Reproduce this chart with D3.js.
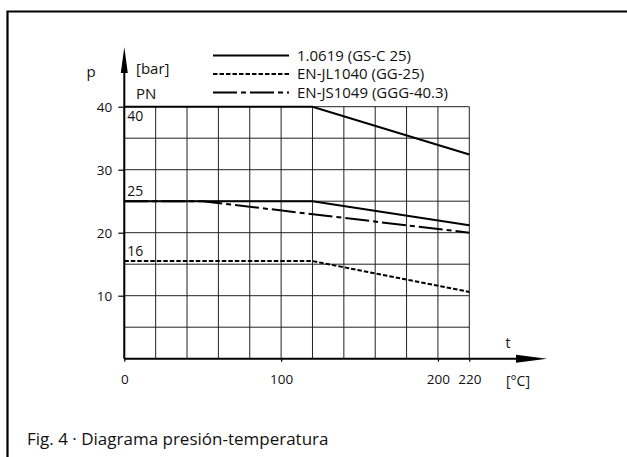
<!DOCTYPE html>
<html><head><meta charset="utf-8">
<script src="https://cdn.jsdelivr.net/npm/d3@7"></script>
<style>html,body{margin:0;padding:0;background:#fff;}svg{display:block;}</style>
</head><body>
<script>
// ---- data ----
const xTicks = [0, 100, 200, 220];
const yTicks = [10, 20, 30, 40];
const xGrid = [0, 20, 40, 60, 80, 100, 120, 140, 160, 180, 200, 220];
const yGrid = [5, 10, 15, 20, 25, 30, 35, 40];
const legendLabels = ["1.0619 (GS-C 25)", "EN-JL1040 (GG-25)", "EN-JS1049 (GGG-40.3)"];
const pnLabels = [40, 25, 16];
const gsc25_pn40_t = [0, 120, 220];
const gsc25_pn40_p = [40, 40, 32.4];
const gsc25_pn25_t = [0, 120, 220];
const gsc25_pn25_p = [25, 25, 21.2];
const gg25_pn16_t = [0, 120, 220];
const gg25_pn16_p = [15.5, 15.5, 10.6];
const ggg40_pn25_t = [0, 50, 220];
const ggg40_pn25_p = [25, 25, 20];
const caption = "Fig. 4 · Diagrama presión-temperatura";

const W = 627, H = 457;
const FONT = "'Open Sans', 'DejaVu Sans', sans-serif";
const svg = d3.select("body").append("svg").attr("width", W).attr("height", H)
  .style("font-family", FONT);

const x = d3.scaleLinear().domain([0, 220]).range([124.3, 469.3]);
const y = d3.scaleLinear().domain([0, 40]).range([358.7, 106.7]);

const dashStyles = ["none", "4.5,2", "24,4,5,4"];

// frame (top + left)
svg.append("path").attr("d", `M7.5,${H} V11.5 H${W}`).attr("fill", "none")
  .attr("stroke", "#000").attr("stroke-width", 2.2);

// grid
const g = svg.append("g");
g.selectAll("line.v").data(xGrid).join("line")
  .attr("x1", d => x(d)).attr("x2", d => x(d)).attr("y1", y(0)).attr("y2", y(40))
  .attr("stroke", "#222").attr("stroke-width", 1);
g.selectAll("line.h").data(yGrid).join("line")
  .attr("x1", x(0)).attr("x2", x(220)).attr("y1", d => y(d)).attr("y2", d => y(d))
  .attr("stroke", "#222").attr("stroke-width", 1);

// axes
const xAxis = d3.axisBottom(x).tickValues(xTicks).tickSize(3).tickFormat(d3.format("d"));
const gx = svg.append("g").attr("transform", `translate(0,${y(0)})`).call(xAxis);
gx.select(".domain").remove();
gx.selectAll(".tick line").attr("stroke", "#000").attr("stroke-width", 1.2);
gx.selectAll(".tick text").attr("y", 16).attr("dy", "0.71em")
  .style("font-family", FONT).style("font-size", "13.5px").attr("fill", "#111");

const yAxis = d3.axisLeft(y).tickValues(yTicks).tickSize(6).tickFormat(d3.format("d"));
const gy = svg.append("g").attr("transform", `translate(${x(0)},0)`).call(yAxis);
gy.select(".domain").remove();
gy.selectAll(".tick line").attr("stroke", "#000").attr("stroke-width", 1.2);
gy.selectAll(".tick text").attr("x", -12).attr("dy", "0.36em")
  .style("font-family", FONT).style("font-size", "13.5px").attr("fill", "#111");

// axis lines with arrows
svg.append("line").attr("x1", x(0)).attr("x2", 520).attr("y1", y(0)).attr("y2", y(0))
  .attr("stroke", "#000").attr("stroke-width", 2);
svg.append("path").attr("d", `M516,${y(0)-4} L547,${y(0)} L516,${y(0)+4} Z`).attr("fill", "#000");
svg.append("line").attr("x1", x(0)).attr("x2", x(0)).attr("y1", y(0)).attr("y2", 70)
  .attr("stroke", "#000").attr("stroke-width", 2);
svg.append("path").attr("d", `M${x(0)-3.5},73 L${x(0)},47 L${x(0)+3.5},73 Z`).attr("fill", "#000");

// series
const line = d3.line().x(d => x(d[0])).y(d => y(d[1]));
const series = [
  {t: gsc25_pn40_t, p: gsc25_pn40_p, s: 0},
  {t: gsc25_pn25_t, p: gsc25_pn25_p, s: 0},
  {t: gg25_pn16_t, p: gg25_pn16_p, s: 1},
  {t: ggg40_pn25_t, p: ggg40_pn25_p, s: 2}
];
series.forEach(sr => {
  svg.append("path").datum(sr.t.map((t, i) => [t, sr.p[i]]))
    .attr("d", line).attr("fill", "none").attr("stroke", "#000").attr("stroke-width", 2)
    .attr("stroke-dasharray", dashStyles[sr.s]);
});

// PN labels inside
const pnY = {40: 40, 25: 25, 16: 15.5};
svg.selectAll("text.pn").data(pnLabels).join("text")
  .attr("x", x(0) + 3).attr("y", d => y(pnY[d]) - 5 + (d === 40 ? 19 : 0))
  .text(d => d).style("font-size", "14px").attr("fill", "#111");

// legend
const lgY = [55.5, 74, 92.5];
legendLabels.forEach((lab, i) => {
  svg.append("line").attr("x1", 213).attr("x2", 289).attr("y1", lgY[i]).attr("y2", lgY[i])
    .attr("stroke", "#000").attr("stroke-width", 2).attr("stroke-dasharray", dashStyles[i]);
  svg.append("text").attr("x", 297).attr("y", lgY[i] + 5).text(lab)
    .style("font-size", "15px").attr("fill", "#111");
});

// axis titles
svg.append("text").attr("x", 91).attr("y", 77).attr("text-anchor", "middle").text("p")
  .style("font-size", "15px").attr("fill", "#111");
svg.append("text").attr("x", 136).attr("y", 74).text("[bar]").style("font-size", "15px").attr("fill", "#111");
svg.append("text").attr("x", 136).attr("y", 99).text("PN").style("font-size", "15px").attr("fill", "#111");
svg.append("text").attr("x", 508).attr("y", 348).attr("text-anchor", "middle").text("t")
  .style("font-size", "14px").attr("fill", "#111");
svg.append("text").attr("x", 518).attr("y", 386).attr("text-anchor", "middle").text("[°C]")
  .style("font-size", "14px").attr("fill", "#111");

// caption
svg.append("text").attr("x", 27).attr("y", 445).text(caption)
  .style("font-size", "17px").attr("fill", "#111");
</script>
</body></html>
